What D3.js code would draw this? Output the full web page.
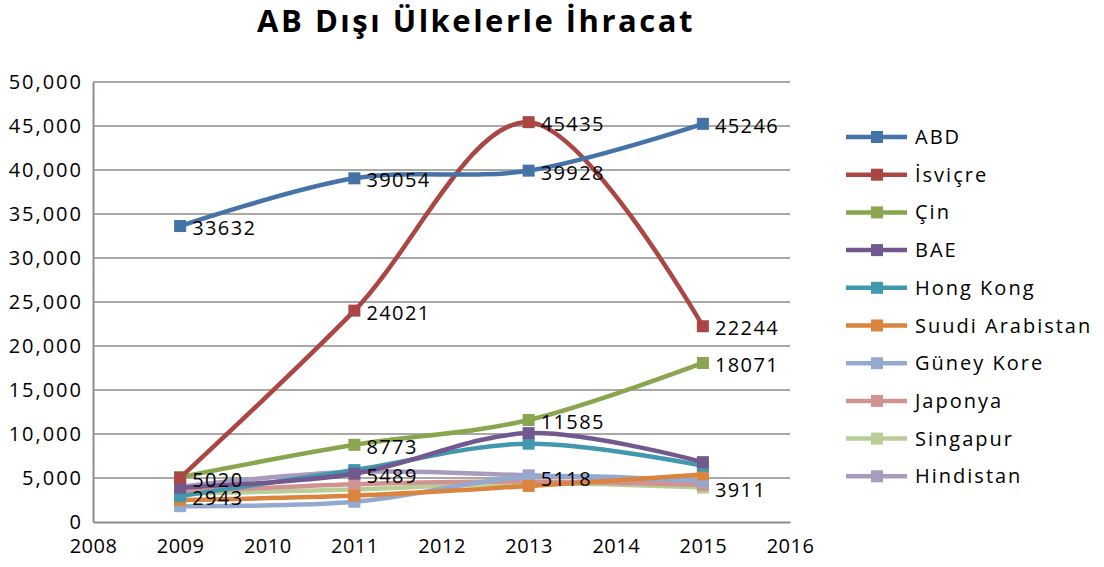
<!DOCTYPE html>
<html>
<head>
<meta charset="utf-8">
<script src="https://cdn.jsdelivr.net/npm/d3@7"></script>
<style>
  body { margin: 0; background: #fff; }
  svg { display: block; font-family: "Open Sans", sans-serif; }
</style>
</head>
<body>
<svg id="chart" width="1104" height="567"></svg>
<script>
// values
var years = [2009, 2011, 2013, 2015];
var names = ["ABD", "İsviçre", "Çin", "BAE", "Hong Kong", "Suudi Arabistan",
             "Güney Kore", "Japonya", "Singapur", "Hindistan"];
var abd       = [33632, 39054, 39928, 45246];
var isvicre   = [5020, 24021, 45435, 22244];
var cin       = [5100, 8773, 11585, 18071];
var bae       = [3900, 5489, 10100, 6800];
var hongKong  = [2943, 5900, 8900, 6400];
var suudi     = [2500, 3000, 4100, 5400];
var guneyKore = [1800, 2300, 5118, 4600];
var japonya   = [3400, 4300, 4600, 4200];
var singapur  = [3200, 3700, 4400, 3911];
var hindistan = [4000, 5700, 5300, 4400];
var yTicks = [0, 5000, 10000, 15000, 20000, 25000, 30000, 35000, 40000, 45000, 50000];
var xTicks = [2008, 2009, 2010, 2011, 2012, 2013, 2014, 2015, 2016];
var colors = ["#4572A7", "#AA4643", "#89A54E", "#71588F", "#4198AF", "#DB843D",
              "#93A9CF", "#D19392", "#B9CD96", "#A99BBD"];
// which points carry a value label: [series index, year index]
var labelled = [[0,0],[0,1],[0,2],[0,3],[1,0],[1,1],[1,2],[1,3],[2,1],[2,2],[2,3],
                [4,0],[3,1],[6,2],[8,3]];

var series = [abd, isvicre, cin, bae, hongKong, suudi, guneyKore, japonya, singapur, hindistan];

var svg = d3.select("#chart");
var x = d3.scaleLinear().domain([2008, 2016]).range([93, 790]);
var y = d3.scaleLinear().domain([0, 50000]).range([522, 82]);

svg.append("text")
  .attr("x", 476).attr("y", 32)
  .attr("text-anchor", "middle")
  .style("font-size", "31px").style("font-weight", "bold")
  .style("letter-spacing", "2.5px")
  .text("AB Dışı Ülkelerle İhracat");

// grid
svg.append("g").selectAll("line").data(yTicks.slice(1)).join("line")
  .attr("x1", x(2008)).attr("x2", x(2016))
  .attr("y1", d => y(d)).attr("y2", d => y(d))
  .attr("stroke", "#8c8c8c").attr("stroke-width", 1.5);

var yAxis = svg.append("g").attr("transform", "translate(" + x(2008) + ",0)")
  .call(d3.axisLeft(y).tickValues(yTicks).tickSize(0).tickPadding(10).tickFormat(d3.format(",")));
var xAxis = svg.append("g").attr("transform", "translate(0," + y(0) + ")")
  .call(d3.axisBottom(x).tickValues(xTicks).tickSize(0).tickPadding(17).tickFormat(d3.format("d")));
[yAxis, xAxis].forEach(function(a) {
  a.select(".domain").attr("stroke", "#8c8c8c").attr("stroke-width", 2);
  a.selectAll("text").attr("fill", "#000").style("font-size", "20px")
    .style("font-family", "'Open Sans', sans-serif").style("letter-spacing", "0.5px");
});
yAxis.selectAll("text").style("letter-spacing", "2px");

var line = d3.line()
  .x((d, i) => x(years[i]))
  .y(d => y(d))
  .curve(d3.curveCardinal.tension(0));

// first series ends up on top, as in the original
var g = svg.append("g");
series.slice().reverse().forEach(function(vals, r) {
  var s = series.length - 1 - r;
  g.append("path").datum(vals)
    .attr("d", line)
    .attr("fill", "none")
    .attr("stroke", colors[s])
    .attr("stroke-width", 4.5);
  g.selectAll(null).data(vals).join("rect")
    .attr("x", (d, i) => x(years[i]) - 6)
    .attr("y", d => y(d) - 6)
    .attr("width", 12).attr("height", 12)
    .attr("fill", colors[s]);
});

svg.append("g").selectAll("text").data(labelled).join("text")
  .attr("x", d => x(years[d[1]]) + 12)
  .attr("y", d => y(series[d[0]][d[1]]) + 9)
  .style("font-size", "20px").style("letter-spacing", "1.4px")
  .text(d => series[d[0]][d[1]]);

// legend
var leg = svg.append("g").selectAll("g").data(names).join("g")
  .attr("transform", (d, i) => "translate(846," + (137 + i * 37.7) + ")");
leg.append("line").attr("x1", 0).attr("x2", 61)
  .attr("stroke", (d, i) => colors[i]).attr("stroke-width", 4.5);
leg.append("rect").attr("x", 25).attr("y", -6).attr("width", 12).attr("height", 12)
  .attr("fill", (d, i) => colors[i]);
leg.append("text").attr("x", 69).attr("y", 7)
  .style("font-size", "20px").style("letter-spacing", "2px")
  .text(d => d);
</script>
</body>
</html>
